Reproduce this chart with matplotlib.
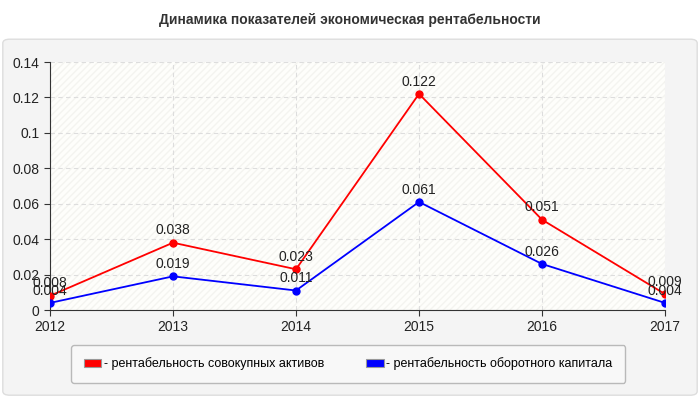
import matplotlib.pyplot as plt
from matplotlib.patches import FancyBboxPatch, Patch

# Данные
years = [2012, 2013, 2014, 2015, 2016, 2017]
assets = [0.008, 0.038, 0.023, 0.122, 0.051, 0.009]
capital = [0.004, 0.019, 0.011, 0.061, 0.026, 0.004]
yticks = [0, 0.02, 0.04, 0.06, 0.08, 0.1, 0.12, 0.14]
ytick_labels = ['0', '0.02', '0.04', '0.06', '0.08', '0.1', '0.12', '0.14']
series_names = ['- рентабельность совокупных активов', '- рентабельность оборотного капитала']

plt.rcParams['font.family'] = ['Liberation Sans', 'DejaVu Sans']

fig = plt.figure(figsize=(7, 4), dpi=100)
fig.patch.set_facecolor('white')

# Серая подложка
panel = FancyBboxPatch((0.004, 0.012), 0.992, 0.89, boxstyle='round,pad=0,rounding_size=0.01',
                       transform=fig.transFigure, facecolor='#f4f4f4', edgecolor='#dddddd',
                       linewidth=1, zorder=-10)
fig.patches.append(panel)

fig.text(0.5, 0.95, 'Динамика показателей экономическая рентабельности', ha='center', va='center',
         fontsize=10, fontweight='bold', color='#333333')

ax = fig.add_axes([50 / 700, 1 - 310 / 400, 615 / 700, 248 / 400])
ax.set_facecolor('#fefefb')
ax.patch.set_hatch('/////')
ax.patch.set_edgecolor('#f4f4f0')
ax.patch.set_linewidth(0)

ax.plot(years, assets, color='red', marker='o', markersize=5, linewidth=1.3, zorder=3)
ax.plot(years, capital, color='blue', marker='o', markersize=5, linewidth=1.3, zorder=3)

for x, y in zip(years, assets):
    ax.annotate(f'{y:g}', (x, y), textcoords='offset points', xytext=(0, 6), ha='center',
                fontsize=10, color='#222222', zorder=4)
for x, y in zip(years, capital):
    ax.annotate(f'{y:g}', (x, y), textcoords='offset points', xytext=(0, 6), ha='center',
                fontsize=10, color='#222222', zorder=4)

ax.set_xlim(2012, 2017)
ax.set_ylim(0, 0.14)
ax.set_xticks(years)
ax.set_xticklabels([str(y) for y in years])
ax.set_yticks(yticks)
ax.set_yticklabels(ytick_labels)
ax.tick_params(labelsize=10, colors='#222222', length=4, color='#333333')

ax.grid(True, linestyle=(0, (4, 3)), color='#dddddd', linewidth=0.8)
ax.set_axisbelow(True)
for s in ['top', 'right']:
    ax.spines[s].set_visible(False)
for s in ['left', 'bottom']:
    ax.spines[s].set_color('#333333')

# Легенда
handles = [Patch(facecolor='red', edgecolor='#999999', linewidth=0.8),
           Patch(facecolor='blue', edgecolor='#999999', linewidth=0.8)]
leg = ax.legend(handles, series_names, loc='center', bbox_to_anchor=(348 / 700, 1 - 364 / 400),
                bbox_transform=fig.transFigure, ncol=2, frameon=True, fontsize=9,
                handlelength=1.4, handleheight=0.6, columnspacing=3.4, borderpad=1.0,
                handletextpad=0.2, fancybox=True)
leg.get_frame().set_edgecolor('#aaaaaa')
leg.get_frame().set_facecolor('#fafafa')

plt.savefig('out.png', dpi=100, facecolor=fig.get_facecolor())
